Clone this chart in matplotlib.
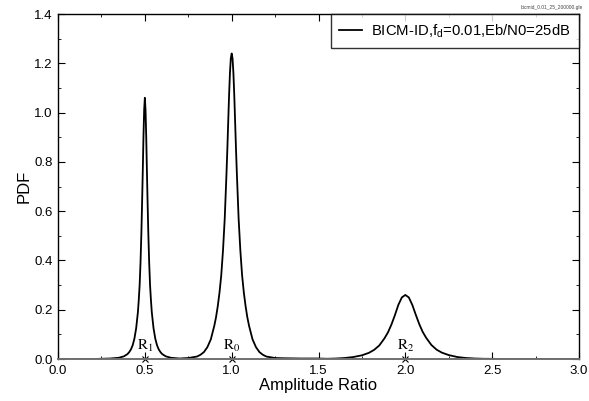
import numpy as np
import matplotlib
matplotlib.use('Agg')
from matplotlib import pyplot as plt
from matplotlib.ticker import MultipleLocator

plt.rcParams['font.family'] = ['Liberation Sans', 'DejaVu Sans']
plt.rcParams['mathtext.fontset'] = 'custom'
plt.rcParams['mathtext.rm'] = 'Liberation Sans'

# amplitude ratio vs pdf
ratio = [0.00, 0.10, 0.20, 0.25, 0.30, 0.35, 0.38, 0.40, 0.41, 0.42, 0.43, 0.44,
         0.45, 0.46, 0.465, 0.47, 0.475, 0.48, 0.484, 0.488, 0.492, 0.496, 0.50,
         0.504, 0.508, 0.512, 0.516, 0.52, 0.525, 0.53, 0.535, 0.54, 0.55, 0.56,
         0.57, 0.58, 0.59, 0.60, 0.62, 0.65, 0.70,
         0.75, 0.80, 0.82, 0.84, 0.86, 0.88, 0.90, 0.91, 0.92, 0.93, 0.94, 0.95,
         0.96, 0.97, 0.975, 0.98, 0.985, 0.99, 0.995, 1.00, 1.005, 1.01, 1.015,
         1.02, 1.025, 1.03, 1.04, 1.05, 1.06, 1.07, 1.08, 1.09, 1.10, 1.12, 1.14,
         1.16, 1.18, 1.20, 1.25, 1.30, 1.40, 1.50,
         1.55, 1.60, 1.65, 1.70, 1.75, 1.79, 1.82, 1.85, 1.88, 1.90, 1.92, 1.94,
         1.96, 1.98, 2.00, 2.02, 2.04, 2.06, 2.08, 2.10, 2.12, 2.15, 2.18, 2.21,
         2.25, 2.30, 2.35, 2.40, 2.45, 2.60, 2.80, 3.00]
pdf = [0.000, 0.000, 0.000, 0.001, 0.002, 0.005, 0.011, 0.020, 0.028, 0.039, 0.056, 0.083,
       0.125, 0.19, 0.24, 0.30, 0.39, 0.51, 0.63, 0.76, 0.90, 1.01, 1.06,
       1.01, 0.90, 0.76, 0.63, 0.51, 0.39, 0.30, 0.24, 0.19, 0.125, 0.083,
       0.056, 0.039, 0.028, 0.020, 0.011, 0.005, 0.002,
       0.004, 0.010, 0.017, 0.028, 0.048, 0.080, 0.135, 0.17, 0.215, 0.27, 0.34, 0.44,
       0.57, 0.75, 0.85, 0.96, 1.07, 1.16, 1.22, 1.24, 1.22, 1.16, 1.07,
       0.96, 0.85, 0.75, 0.57, 0.44, 0.34, 0.27, 0.215, 0.17, 0.135, 0.080, 0.048,
       0.028, 0.017, 0.010, 0.004, 0.003, 0.002, 0.002,
       0.001, 0.002, 0.004, 0.008, 0.015, 0.025, 0.037, 0.055, 0.084, 0.108, 0.140, 0.178,
       0.220, 0.250, 0.260, 0.250, 0.220, 0.180, 0.142, 0.110, 0.086, 0.057, 0.038, 0.026,
       0.016, 0.008, 0.004, 0.002, 0.001, 0.000, 0.000, 0.000]

r_pos = [0.5, 1.0, 2.0]
r_names = [r'$\mathrm{R}_1$', r'$\mathrm{R}_0$', r'$\mathrm{R}_2$']

fig = plt.figure(figsize=(5.89, 4.01), dpi=100)
ax = fig.add_axes([0.0985, 0.1047, 0.8845, 0.8603])

ax.plot(ratio, pdf, color='black', lw=1.3, label=r'BICM-ID,f$_\mathrm{d}$=0.01,Eb/N0=25dB')
ax.plot(r_pos, [0] * len(r_pos), 'x', color='black', ms=5, mew=0.8, clip_on=False)
for x, name in zip(r_pos, r_names):
    ax.text(x, 0.022, name, ha='center', va='bottom', fontsize=11, math_fontfamily='stix')

ax.set_xlim(0, 3.0)
ax.set_ylim(0, 1.4)
ax.xaxis.set_major_locator(MultipleLocator(0.5))
ax.xaxis.set_minor_locator(MultipleLocator(0.25))
ax.yaxis.set_major_locator(MultipleLocator(0.2))
ax.yaxis.set_minor_locator(MultipleLocator(0.1))
ax.tick_params(which='both', direction='in', top=True, right=True, labelsize=9.5, pad=4)
ax.tick_params(which='major', length=5)
ax.tick_params(which='minor', length=2.5)
ax.set_xticklabels(['%.1f' % v for v in ax.get_xticks()])
ax.set_yticklabels(['%.1f' % v for v in ax.get_yticks()])
for s in ax.spines.values():
    s.set_linewidth(1.0)
ax.spines['bottom'].set_color('#707070')
ax.spines['bottom'].set_linewidth(1.4)

ax.set_xlabel('Amplitude Ratio', fontsize=12, labelpad=1)
ax.set_ylabel('PDF', fontsize=12, labelpad=2)

leg = ax.legend(loc='upper right', fontsize=10.7, frameon=True, fancybox=False,
                borderaxespad=0, borderpad=0.55, handlelength=1.5, handletextpad=0.65)
leg.get_frame().set_edgecolor('black')
leg.get_frame().set_linewidth(1.0)

fig.text(0.99, 0.988, 'bicmid_0.01_25_200000.gle', fontsize=3.5, ha='right', va='top',
         color='#444444')

fig.savefig('out.png', dpi=100)
